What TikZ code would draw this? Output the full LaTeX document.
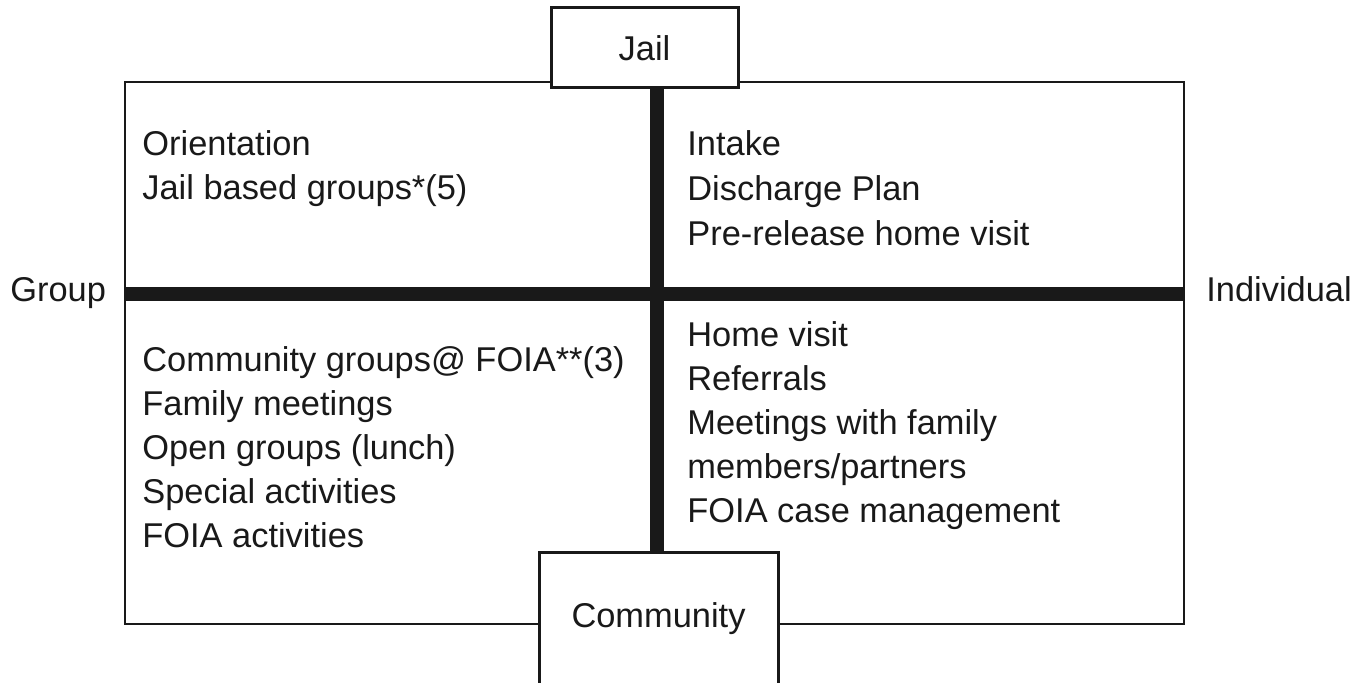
\documentclass[tikz,border=0pt]{standalone}
\usepackage{fontspec}
\setmainfont{Liberation Sans}

\begin{document}
\begin{tikzpicture}[x=0.5pt,y=-0.5pt,
    every node/.style={font=\fontsize{17.2}{22}\selectfont, text=black!90},
    frame/.style={draw=black!90, line width=1.2pt},
    bar/.style={draw=black!90, line width=7pt},
    box/.style={draw=black!90, fill=white, line width=1.5pt, inner sep=0pt},
    item/.style={anchor=base west, inner sep=0pt}]
  \useasboundingbox (0,0) rectangle (1369,683);
  %frame
  \draw[frame] (125,82) rectangle (1184,624);
  %axes
  \coordinate (left) at (125,294);
  \coordinate (right) at (1184,294);
  \coordinate (top) at (657,82);
  \coordinate (bottom) at (657,552);
  \draw[bar] (left) -- (right);
  \draw[bar] (top) -- (bottom);
  %end boxes
  \node[box, minimum width=93.5pt, minimum height=40pt] (jail) at (644.5,48) {Jail};
  \node[box, minimum width=119.5pt, minimum height=67pt] (community) at (658.5,619) {Community};
  \node[item] (group) at (10,302) {Group};
  \node[item] (individual) at (1206,302) {Individual};
  %quadrants
  \foreach \t [count=\i from 0] in {Orientation, Jail based groups*(5)}
    \node[item] (jg\i) at (142,156+44*\i) {\t};
  \foreach \t [count=\i from 0] in {Intake, Discharge Plan, Pre-release home visit}
    \node[item] (ji\i) at (687,156+45*\i) {\t};
  \foreach \t [count=\i from 0] in {Community groups@ FOIA**(3), Family meetings,
      Open groups (lunch), Special activities, FOIA activities}
    \node[item] (cg\i) at (142,372+43.8*\i) {\t};
  \foreach \t [count=\i from 0] in {Home visit, Referrals, Meetings with family,
      members/partners, FOIA case management}
    \node[item] (ci\i) at (687,347+44*\i) {\t};
\end{tikzpicture}
\end{document}
